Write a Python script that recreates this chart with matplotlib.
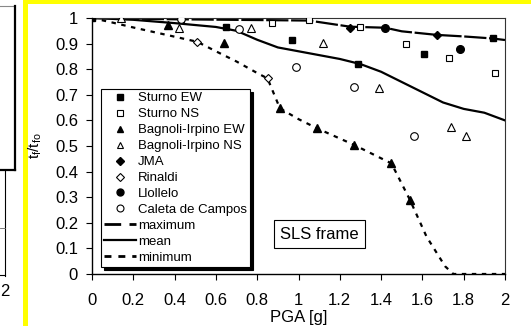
import matplotlib
matplotlib.use('Agg')
import matplotlib.pyplot as plt
from matplotlib.lines import Line2D
from matplotlib.patches import Rectangle

plt.rcParams['font.family'] = ['Liberation Sans', 'DejaVu Sans']
plt.rcParams['mathtext.fontset'] = 'custom'
plt.rcParams['mathtext.rm'] = 'Liberation Sans'
plt.rcParams['mathtext.it'] = 'Liberation Sans'

# ---- data ----
sturno_ew_x = [0, 0.65, 0.97, 1.29, 1.61, 1.94]
sturno_ew_y = [1.0, 0.966, 0.915, 0.82, 0.858, 0.92]
sturno_ns_x = [0.43, 0.87, 1.05, 1.30, 1.52, 1.73, 1.95]
sturno_ns_y = [0.995, 0.979, 0.992, 0.966, 0.897, 0.845, 0.786]
bag_ew_x = [0.37, 0.64, 0.91, 1.09, 1.27, 1.45, 1.54]
bag_ew_y = [0.973, 0.901, 0.647, 0.569, 0.504, 0.432, 0.289]
bag_ns_x = [0.14, 0.42, 0.77, 1.12, 1.39, 1.74, 1.81]
bag_ns_y = [0.999, 0.96, 0.96, 0.901, 0.725, 0.575, 0.539]
jma_x = [1.25, 1.67]
jma_y = [0.96, 0.934]
rinaldi_x = [0.51, 0.85]
rinaldi_y = [0.907, 0.764]
llollelo_x = [1.42, 1.78]
llollelo_y = [0.962, 0.878]
caleta_x = [0.43, 0.71, 0.99, 1.27, 1.56]
caleta_y = [0.995, 0.957, 0.807, 0.729, 0.539]

max_x = [0, 0.4, 0.8, 1.05, 1.15, 1.25, 1.42, 1.5, 1.67, 1.8, 1.94, 2.0]
max_y = [1.0, 0.995, 0.992, 0.99, 0.978, 0.966, 0.962, 0.948, 0.934, 0.928, 0.92, 0.914]
mean_x = [0, 0.2, 0.4, 0.6, 0.7, 0.8, 0.9, 1.0, 1.1, 1.2, 1.3, 1.4, 1.5, 1.6, 1.7, 1.8, 1.9, 2.0]
mean_y = [1.0, 0.993, 0.98, 0.965, 0.95, 0.915, 0.885, 0.87, 0.855, 0.84, 0.82, 0.79, 0.75,
          0.71, 0.67, 0.645, 0.63, 0.60]
min_x = [0, 0.1, 0.2, 0.3, 0.4, 0.51, 0.6, 0.7, 0.8, 0.85, 0.91, 1.0, 1.09, 1.27, 1.45,
         1.54, 1.62, 1.71, 1.75, 2.0]
min_y = [1.0, 0.982, 0.963, 0.945, 0.927, 0.907, 0.87, 0.83, 0.785, 0.764, 0.647, 0.605,
         0.569, 0.504, 0.432, 0.289, 0.146, 0.03, 0.0, 0.0]

xticks = [0, 0.2, 0.4, 0.6, 0.8, 1, 1.2, 1.4, 1.6, 1.8, 2]
xticklabels = ['0', '0.2', '0.4', '0.6', '0.8', '1', '1.2', '1.4', '1.6', '1.8', '2']
yticks = [0, 0.1, 0.2, 0.3, 0.4, 0.5, 0.6, 0.7, 0.8, 0.9, 1]
yticklabels = ['0', '0.1', '0.2', '0.3', '0.4', '0.5', '0.6', '0.7', '0.8', '0.9', '1']

W, H = 531, 326
fig = plt.figure(figsize=(W / 100, H / 100), dpi=100)
fig.patch.set_facecolor('white')

def fx(p):
    return p / W

def fy(p):
    return 1 - p / H

# yellow frame
fig.add_artist(Rectangle((fx(23), fy(4)), 1 - fx(23), 4 / H, transform=fig.transFigure,
                         color='#ffff00', lw=0, zorder=0))
fig.add_artist(Rectangle((fx(23), 0), 5 / W, 1, transform=fig.transFigure,
                         color='#ffff00', lw=0, zorder=0))

# fragment of neighbouring chart
def fline(xs, ys, c='black', lw=1.0):
    fig.add_artist(Line2D([fx(v) for v in xs], [fy(v) for v in ys], transform=fig.transFigure,
                          color=c, lw=lw))

fline([0, 14], [6, 6], c='#888888', lw=0.8)
fline([14.5, 14.5], [6, 170], lw=1.6)
fline([0, 15], [170, 170], lw=1.6)
fline([5, 5], [170, 276], lw=0.8)
fline([0, 5], [275, 275], lw=0.8)
fline([0, 5], [228, 228], c='#666666', lw=0.6)
fig.text(fx(5), fy(292), '2', ha='center', va='center', fontsize=12)

# main axes
ax = fig.add_axes([fx(92), 1 - 274 / H, (505 - 92) / W, (274 - 18) / H])
ax.set_xlim(0, 2)
ax.set_ylim(0, 1)

lw = 1.6
ax.plot(max_x, max_y, color='black', lw=lw, ls=(0, (10, 1.2)), zorder=2)
ax.plot(mean_x, mean_y, color='black', lw=lw, ls='-', zorder=2)
ax.plot(min_x, min_y, color='black', lw=lw, ls=(0, (2, 2.5)), zorder=2)

ms = 5
kw = dict(ls='none', color='black', zorder=3)
ax.plot(sturno_ew_x, sturno_ew_y, marker='s', ms=ms, mfc='black', mec='black', **kw)
ax.plot(sturno_ns_x, sturno_ns_y, marker='s', ms=ms, mfc='white', mec='black', mew=0.8, **kw)
ax.plot(bag_ew_x, bag_ew_y, marker='^', ms=ms + 0.5, mfc='black', mec='black', **kw)
ax.plot(bag_ns_x, bag_ns_y, marker='^', ms=ms + 0.5, mfc='white', mec='black', mew=0.8, **kw)
ax.plot(jma_x, jma_y, marker='D', ms=ms - 1, mfc='black', mec='black', **kw)
ax.plot(rinaldi_x, rinaldi_y, marker='D', ms=ms - 1, mfc='white', mec='black', mew=0.8, **kw)
ax.plot(llollelo_x, llollelo_y, marker='o', ms=ms + 0.5, mfc='black', mec='black', **kw)
ax.plot(caleta_x, caleta_y, marker='o', ms=ms + 0.5, mfc='white', mec='black', mew=0.8, **kw)

ax.set_xticks(xticks)
ax.set_xticklabels(xticklabels)
ax.set_yticks(yticks)
ax.set_yticklabels(yticklabels)
ax.tick_params(axis='both', labelsize=12, direction='out', length=4, width=0.8, colors='black')
ax.tick_params(axis='x', pad=10)
ax.tick_params(axis='y', pad=6)
for s in ['top', 'right']:
    ax.spines[s].set_color('#333333')
    ax.spines[s].set_linewidth(0.8)
for s in ['left', 'bottom']:
    ax.spines[s].set_color('black')
    ax.spines[s].set_linewidth(1.0)

ax.set_xlabel('PGA [g]', fontsize=12, labelpad=1)
ax.set_ylabel(r'$\mathrm{t_f/t_{fo}}$', fontsize=11, labelpad=8)

ax.text(1.10, 0.156, 'SLS frame', ha='center', va='center', fontsize=12,
        bbox=dict(boxstyle='square,pad=0.38', fc='white', ec='black', lw=0.8), zorder=5)

handles = [
    Line2D([], [], ls='none', marker='s', ms=ms, mfc='black', mec='black'),
    Line2D([], [], ls='none', marker='s', ms=ms, mfc='white', mec='black', mew=0.8),
    Line2D([], [], ls='none', marker='^', ms=ms, mfc='black', mec='black'),
    Line2D([], [], ls='none', marker='^', ms=ms, mfc='white', mec='black', mew=0.8),
    Line2D([], [], ls='none', marker='D', ms=ms - 1, mfc='black', mec='black'),
    Line2D([], [], ls='none', marker='D', ms=ms - 1, mfc='white', mec='black', mew=0.8),
    Line2D([], [], ls='none', marker='o', ms=ms, mfc='black', mec='black'),
    Line2D([], [], ls='none', marker='o', ms=ms, mfc='white', mec='black', mew=0.8),
    Line2D([], [], color='black', lw=2, ls=(0, (6, 3))),
    Line2D([], [], color='black', lw=lw, ls='-'),
    Line2D([], [], color='black', lw=2, ls=(0, (2.5, 2.5))),
]
labels = ['Sturno EW', 'Sturno NS', 'Bagnoli-Irpino EW', 'Bagnoli-Irpino NS', 'JMA',
          'Rinaldi', 'Llollelo', 'Caleta de Campos', 'maximum', 'mean', 'minimum']
leg = ax.legend(handles, labels, loc='lower left', bbox_to_anchor=(0.022, 0.027),
                fontsize=9.5, frameon=True, fancybox=False, shadow={'color': 'black', 'alpha': 1},
                labelspacing=0.28, handlelength=2.4, handletextpad=0.15, borderpad=0.25,
                borderaxespad=0)
leg.get_frame().set_edgecolor('black')
leg.get_frame().set_linewidth(0.8)
leg.set_zorder(6)

fig.savefig('out.png', dpi=100)
